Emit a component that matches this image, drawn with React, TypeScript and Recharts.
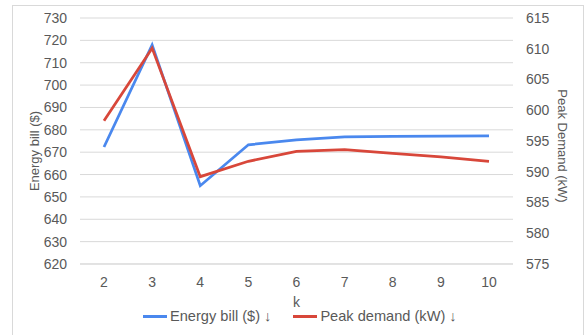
import React from 'react';
import { LineChart, Line, XAxis, YAxis, CartesianGrid } from 'recharts';

// k values on the x axis
const kValues = [2, 3, 4, 5, 6, 7, 8, 9, 10];
// left axis series
const energyBill = [672.3, 718, 655, 673.3, 675.5, 676.8, 677.1, 677.2, 677.3];
// right axis series
const peakDemand = [598.3, 610.1, 589.2, 591.7, 593.3, 593.6, 593.0, 592.4, 591.7];

const leftTicks = [620, 630, 640, 650, 660, 670, 680, 690, 700, 710, 720, 730];
const rightTicks = [575, 580, 585, 590, 595, 600, 605, 610, 615];

const series = [
    { key: 'bill', name: 'Energy bill ($) ↓', color: '#4A88EE', axis: 'left' },
    { key: 'peak', name: 'Peak demand (kW) ↓', color: '#D8473A', axis: 'right' },
];

const data = kValues.map((k, i) => ({ k, bill: energyBill[i], peak: peakDemand[i] }));

const FONT = '"Liberation Sans", Arial, Helvetica, sans-serif';
const TEXT = '#595959';
const GRID = '#d9d9d9';

const App: React.FC = () => {
    return (
        <div style={{ position: 'absolute', left: 0, top: 0, width: 585, height: 335, overflow: 'hidden', background: '#fff', fontFamily: FONT }}>
            {/* chart frame */}
            <div style={{ position: 'absolute', left: 12, top: 5, width: 572, height: 345, border: `1px solid ${GRID}`, boxSizing: 'border-box' }} />

            <div style={{ position: 'absolute', left: 0, top: 0 }}>
                <LineChart width={585} height={335} data={data} margin={{ top: 18, right: 0, bottom: 41, left: 0 }}>
                    <CartesianGrid vertical={false} stroke={GRID} strokeWidth={1} yAxisId="left" />
                    <XAxis
                        dataKey="k"
                        height={30}
                        padding={{ left: 24, right: 24 }}
                        tickLine={false}
                        axisLine={{ stroke: GRID }}
                        tickSize={0}
                        tickMargin={13}
                        tick={{ fill: TEXT, fontSize: 14, fontFamily: FONT }}
                        label={{ value: 'k', position: 'bottom', offset: 3, fill: TEXT, fontSize: 14, fontFamily: FONT }}
                    />
                    <YAxis
                        yAxisId="left"
                        width={80}
                        domain={[620, 730]}
                        ticks={leftTicks}
                        interval={0}
                        tickLine={false}
                        axisLine={false}
                        tickSize={0}
                        tickMargin={13}
                        tick={{ fill: TEXT, fontSize: 14, fontFamily: FONT }}
                        label={{
                            content: (props: any) => {
                                const vb = props.viewBox;
                                const cx = vb.x + vb.width / 2 - 6;
                                const cy = vb.y + vb.height / 2 + 10;
                                return (
                                    <text x={cx} y={cy} transform={`rotate(-90 ${cx} ${cy})`} textAnchor="middle" dominantBaseline="central" fill={TEXT} fontSize={13} fontFamily={FONT}>
                                        Energy bill ($)
                                    </text>
                                );
                            },
                        }}
                    />
                    <YAxis
                        yAxisId="right"
                        orientation="right"
                        width={72}
                        domain={[575, 615]}
                        ticks={rightTicks}
                        interval={0}
                        tickLine={false}
                        axisLine={false}
                        tickSize={0}
                        tickMargin={13}
                        tick={{ fill: TEXT, fontSize: 14, fontFamily: FONT }}
                        label={{
                            content: (props: any) => {
                                const vb = props.viewBox;
                                const cx = vb.x + vb.width / 2 + 13;
                                const cy = vb.y + vb.height / 2 + 5;
                                return (
                                    <text x={cx} y={cy} transform={`rotate(90 ${cx} ${cy})`} textAnchor="middle" dominantBaseline="central" fill={TEXT} fontSize={13} fontFamily={FONT}>
                                        Peak Demand (kW)
                                    </text>
                                );
                            },
                        }}
                    />
                    {series.map((s) => (
                        <Line
                            key={s.key}
                            yAxisId={s.axis}
                            type="linear"
                            dataKey={s.key}
                            name={s.name}
                            stroke={s.color}
                            strokeWidth={2.75}
                            dot={false}
                            activeDot={false}
                            isAnimationActive={false}
                        />
                    ))}
                </LineChart>
            </div>

            {/* legend */}
            <div style={{ position: 'absolute', left: 143, top: 308, display: 'flex', alignItems: 'center', fontSize: 14.6, color: TEXT, whiteSpace: 'nowrap' }}>
                {series.map((s, i) => (
                    <div key={s.key} style={{ display: 'flex', alignItems: 'center', marginRight: i === 0 ? 22 : 0 }}>
                        <span style={{ display: 'inline-block', width: 24, height: 3, background: s.color, marginRight: 3 }} />
                        <span>{s.name}</span>
                    </div>
                ))}
            </div>
        </div>
    );
};

export default App;
